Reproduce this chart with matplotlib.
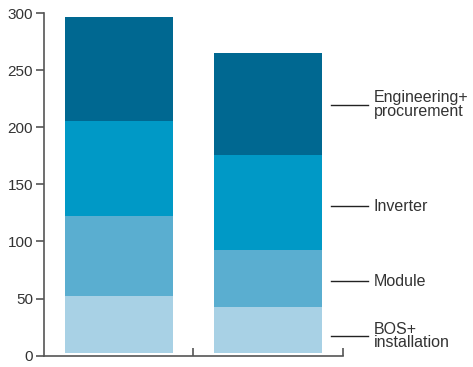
import matplotlib
matplotlib.use("Agg")
import matplotlib.pyplot as plt
import numpy as np

plt.rcParams['font.family'] = ['Liberation Sans', 'DejaVu Sans']

# Cost components per scenario (stacked bottom to top)
components = ["BOS+\ninstallation", "Module", "Inverter", "Engineering+\nprocurement"]
bos = [50, 40]
module = [70, 50]
inverter = [83, 83]
engineering = [91, 90]
series = [bos, module, inverter, engineering]
colors = ["#a8d1e5", "#5aaed0", "#0099c6", "#006891"]
label_y = [17, 65, 131, 220]
yticks = [0, 50, 100, 150, 200, 250, 300]

text_color = "#333333"
fig = plt.figure(figsize=(4.73, 3.67), dpi=100)
ax = fig.add_axes([0.093, 0.031, 0.632, 0.933])

# bars sit slightly above the baseline
base = 2.5
x = np.arange(2)
bottom = np.full(2, base)
for vals, c in zip(series, colors):
    ax.bar(x, vals, width=0.72, bottom=bottom, color=c, linewidth=0)
    bottom += np.array(vals)

ax.set_xlim(-0.5, 1.5)
ax.set_ylim(0, 300)
ax.set_yticks(yticks)
ax.set_xticks([0.5, 1.5])
ax.set_xticklabels([])
ax.tick_params(axis='x', direction='in', length=6, width=1.2, color="#555555")
ax.tick_params(axis='y', direction='out', length=6, width=1.2, color="#555555",
               labelsize=11, labelcolor=text_color, pad=2)
for s in ["top", "right"]:
    ax.spines[s].set_visible(False)
for s in ["left", "bottom"]:
    ax.spines[s].set_color("#555555")
    ax.spines[s].set_linewidth(1.2)

for lab, yv in zip(components, label_y):
    ax.plot([1.42, 1.667], [yv, yv], color="#222222", lw=1.0, clip_on=False)
    ax.text(1.707, yv, lab, ha="left", va="center", fontsize=11.5,
            color=text_color, linespacing=0.85, clip_on=False)

fig.savefig("out.png", dpi=100)
